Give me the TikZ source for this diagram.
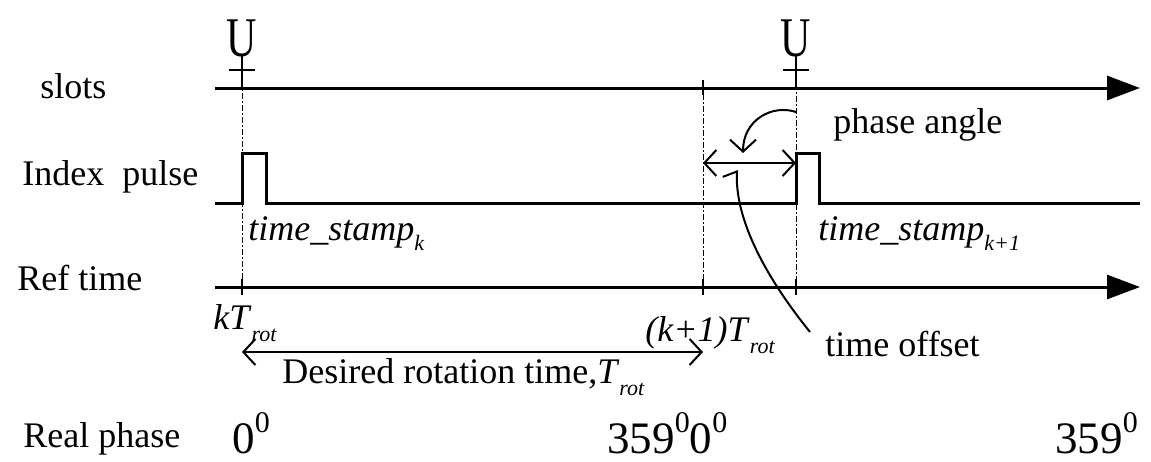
\documentclass[tikz,border=0pt]{standalone}
\usepackage{fontspec}
\setmainfont{Liberation Serif}
\usetikzlibrary{arrows.meta}

\newcommand{\lowsub}[2]{\raisebox{-#1}{\fontsize{11pt}{11pt}\selectfont\itshape #2}}
\newcommand{\degsup}{\raisebox{10.5pt}{\fontsize{15pt}{15pt}\selectfont 0}}

\begin{document}
\begin{tikzpicture}[
          x=0.5pt, y=-0.5pt,
          every node/.style={inner sep=0pt, font=\fontsize{18pt}{20pt}\selectfont},
          lbl/.style={anchor=base west},
          stamp/.style={anchor=base west, font=\fontsize{18pt}{20pt}\selectfont\itshape},
          degree/.style={anchor=base west, font=\fontsize{22.5pt}{24pt}\selectfont},
          axis/.style={line width=1.5pt, -{Triangle[length=16.5pt,width=12pt]}},
          sig/.style={line width=1.5pt},
          tick/.style={line width=1pt},
          guide/.style={line width=0.5pt, dash pattern=on 3pt off 1.2pt on 0.6pt off 1.2pt},
          span/.style={line width=1pt, {Straight Barb[length=6pt,width=13pt]}-{Straight Barb[length=6pt,width=13pt]}},
          note/.style={line width=1pt}
      ]
        \useasboundingbox (0,0) rectangle (1151,461);
        % row labels
        \node[lbl] (slots) at (40,98) {slots};
        \node[lbl] (index) at (22,185) {Index~~pulse};
        \node[lbl] (ref) at (17,290) {Ref time};
        \node[lbl] (real) at (23,447) {Real phase};
        % axes and pulse train
        \draw[axis] (215,88) -- (1140,88);
        \draw[axis] (215,287) -- (1140,287);
        \draw[sig] (215,203) -- (242,203) |- (266,153) -- (266,203) -- (796,203) |- (819,153) -- (819,203) -- (1140,203);
        % guides
        \draw[guide] (242,57) -- (242,293);
        \draw[guide] (703,82) -- (703,293);
        \draw[guide] (796,60) -- (796,293);
        \foreach \x in {242,703,796}
          \draw[tick] (\x,279) -- (\x,295);
        \draw[tick] (703,80) -- (703,95);
        % U marks
        \foreach \x/\n in {242/uk, 796/ukk} {
          \node[anchor=base, font=\fontsize{28pt}{28pt}\selectfont] (\n) at (\x,56) {\scalebox{0.75}[1]{U}};
          \draw[note] (\n.base) -- (\x,88);
          \draw[note] (\x-13,70) -- (\x+13,70);
        }
        % time stamps
        \node[stamp] (tsk) at (248,240) {time\_stamp\lowsub{5pt}{k}};
        \node[stamp] (tskk) at (818,240) {time\_stamp\lowsub{5pt}{k+1}};
        % phase angle and time offset
        \node[lbl] (phase) at (833,133) {phase angle};
        \coordinate (pa) at (796,112);
        \coordinate (pb) at (743,153);
        \draw[note, -{Straight Barb[length=6pt,width=13pt]}] (pa) .. controls (772,104) and (743,120) .. (pb);
        \coordinate (ofa) at (703,163);
        \coordinate (ofb) at (796,163);
        \draw[span] (ofa) -- (ofb);
        \node[lbl] (offset) at (825,356) {time offset};
        \coordinate (oc) at (810,332);
        \coordinate (od) at (737,170);
        \draw[note, -{Straight Barb[harpoon,length=3pt,width=14pt]}] (oc) .. controls (760,270) and (735,215) .. (od);
        % rotation time
        \node[lbl] (ka) at (213,329) {\textit{kT}\lowsub{6pt}{rot}};
        \node[lbl] (kb) at (645,341) {\textit{(k+1)T}\lowsub{6pt}{rot}};
        \coordinate (ra) at (242,352);
        \coordinate (rb) at (703,352);
        \draw[span] (ra) -- (rb);
        \node[lbl] (desired) at (282,383) {Desired rotation time,\textit{T}\lowsub{6pt}{rot}};
        % real phase
        \node[degree] (d0) at (232,453) {0\degsup};
        \node[degree] (d1) at (607,453) {359\degsup{}0\degsup};
        \node[degree] (d2) at (1055,453) {359\degsup};
      \end{tikzpicture}
\end{document}
